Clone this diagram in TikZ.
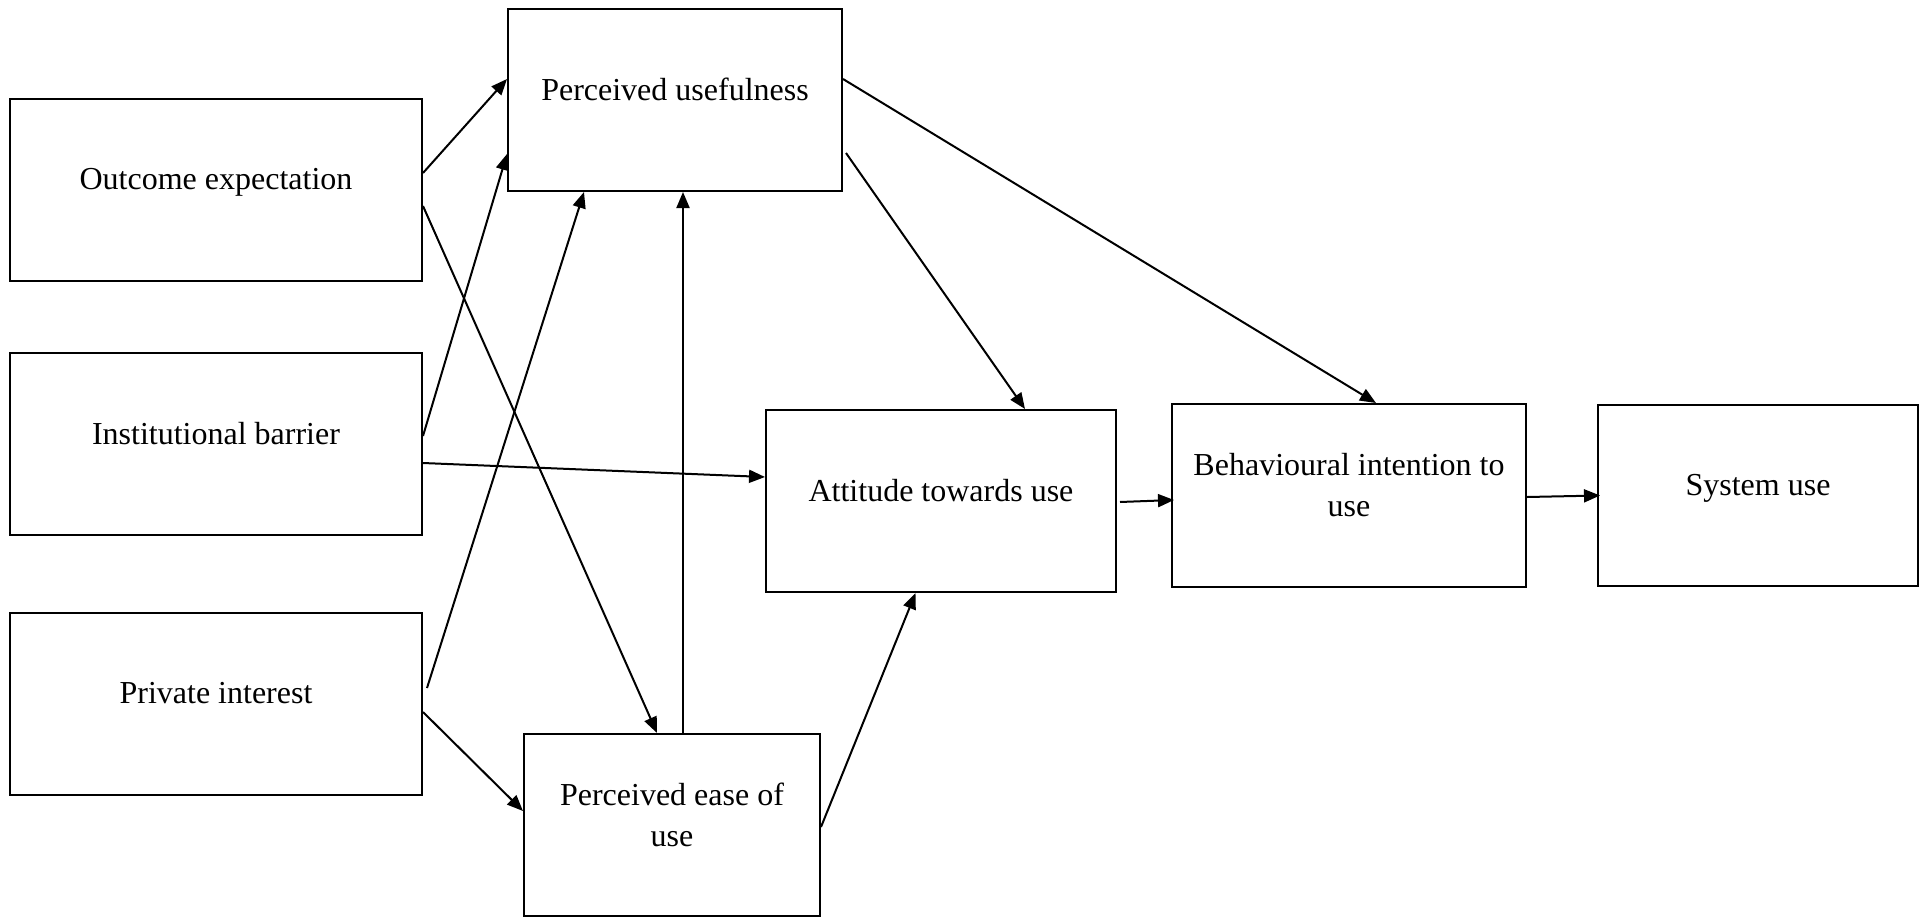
\documentclass[tikz,border=0pt]{standalone}
\usepackage{amsmath, tikz}
\usepackage{fontspec}
\setmainfont{Liberation Serif}
\usetikzlibrary{arrows.meta}

\begin{document}
\begin{tikzpicture}[x=1pt, y=-1pt,
                box/.style={draw, line width=2pt, inner sep=0pt, minimum height=182pt},
                lbl/.style={font=\fontsize{32}{41}\selectfont, inner sep=0pt, text height=22pt, text depth=8pt},
                lbltwo/.style={font=\fontsize{32}{41}\selectfont, inner sep=0pt, align=center},
                arr/.style={-{Triangle[length=16pt, width=13pt]}, line width=2pt}]
                \useasboundingbox (0,0) rectangle (1925,916);
                \node[box, minimum width=412pt] (oe) at (216,190) {};
                \node[box, minimum width=412pt] (ib) at (216,444) {};
                \node[box, minimum width=412pt] (pi) at (216,704) {};
                \node[box, minimum width=334pt] (pu) at (675,100) {};
                \node[box, minimum width=296pt] (peou) at (672,825) {};
                \node[box, minimum width=350pt] (atu) at (941,501) {};
                \node[box, minimum width=354pt, minimum height=183pt] (bi) at (1349,495.5) {};
                \node[box, minimum width=320pt, minimum height=181pt] (su) at (1758,495.5) {};
                \node[lbl] (oetext) at ([yshift=8pt]oe.center) {Outcome expectation};
                \node[lbl] (ibtext) at ([yshift=7pt]ib.center) {Institutional barrier};
                \node[lbl] (pitext) at ([yshift=8pt]pi.center) {Private interest};
                \node[lbl] (putext) at ([yshift=7pt]pu.center) {Perceived usefulness};
                \node[lbltwo] (peoutext) at ([yshift=10.5pt]peou.center) {Perceived ease of\\use};
                \node[lbl] (atutext) at ([yshift=6.5pt]atu.center) {Attitude towards use};
                \node[lbltwo] (bitext) at ([yshift=10pt]bi.center) {Behavioural intention to\\use};
                \node[lbl] (sutext) at ([yshift=7pt]su.center) {System use};
                \draw[arr] ([yshift=17pt]oe.east) -- ([yshift=21pt]pu.west);
                \draw[arr] ([yshift=-16pt]oe.east) -- ([xshift=-15pt]peou.north);
                \draw[arr] ([yshift=8pt]ib.east) -- ([yshift=-54pt]pu.west);
                \draw[arr] ([yshift=-19pt]ib.east) -- ([yshift=24pt]atu.west);
                \draw[arr] ([xshift=4pt, yshift=16pt]pi.east) -- ([xshift=-91pt]pu.south);
                \draw[arr] ([yshift=-8pt]pi.east) -- ([yshift=14pt]peou.west);
                \draw[arr] ([xshift=11pt]peou.north) -- ([xshift=8pt]pu.south);
                \draw[arr] ([yshift=-2pt]peou.east) -- ([xshift=-25.5pt]atu.south);
                \draw[arr] ([xshift=3pt, yshift=-53pt]pu.east) -- ([xshift=84pt]atu.north);
                \draw[arr] ([yshift=21pt]pu.east) -- ([xshift=27pt]bi.north);
                \draw[arr] ([xshift=3pt, yshift=-1pt]atu.east) -- ([xshift=3pt, yshift=-4.5pt]bi.west);
                \draw[arr] ([yshift=-1.5pt]bi.east) -- ([xshift=3pt]su.west);
            \end{tikzpicture}
\end{document}
